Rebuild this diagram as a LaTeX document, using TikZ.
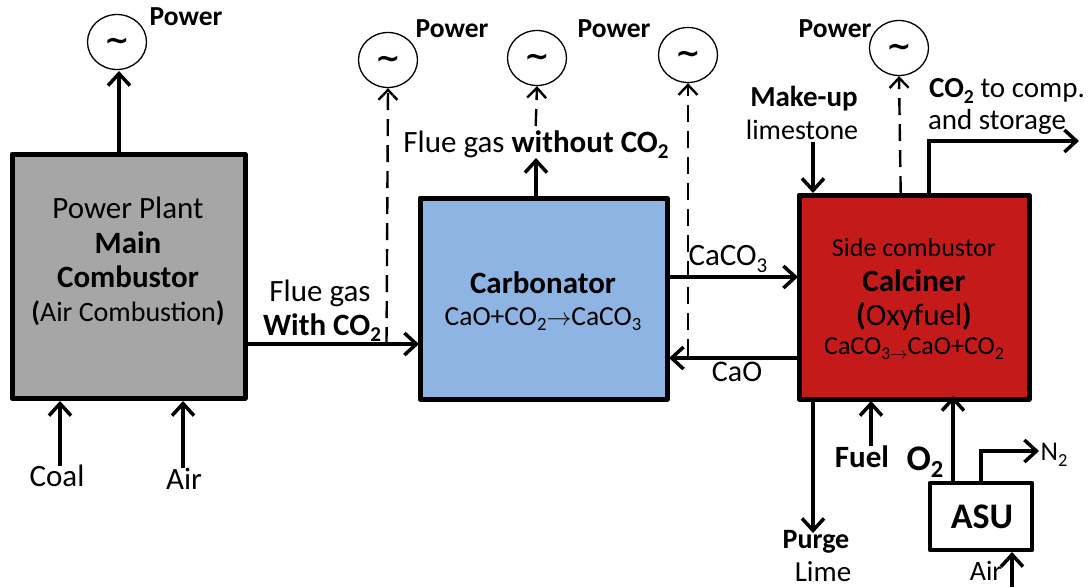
\documentclass[tikz,border=0pt]{standalone}
\usepackage{fontspec}
\setmainfont{Carlito}
\newfontfamily\tildefont{DejaVu Sans}
\usetikzlibrary{arrows.meta,shapes.geometric}
\newcommand{\fs}[1]{\fontsize{#1}{#1}\selectfont}
\newcommand{\sub}[1]{\raisebox{-0.2em}{\fontsize{0.68em}{0.68em}\selectfont #1}}
\tikzset{
  x=1pt,y=-1pt,
  box/.style={draw=black,line width=5pt,line join=round,minimum width=0pt,inner sep=0pt},
  gen/.style={draw=black,line width=1.3pt,ellipse,minimum width=59pt,minimum height=55pt,inner sep=0pt},
  tip/.style={-{Straight Barb[length=12pt,width=22pt,line width=3.5pt]}},
  flow/.style={tip,line width=4pt},
  thin flow/.style={tip,line width=3.4pt},
  elec/.style={-{Straight Barb[length=10pt,width=19pt,line width=2.4pt]},line width=2.4pt,dash pattern=on 17pt off 9pt},
  lab/.style={inner sep=0pt,align=center,text=black},
}
\begin{document}
\begin{tikzpicture}
\useasboundingbox (0,0) rectangle (1089,587);
% boxes
\path[box,fill={rgb,255:red,166;green,166;blue,166}] (12,154) rectangle (245,398);
\coordinate (mainN) at (119,154);
\coordinate (mainE) at (245,344);
\path[box,fill={rgb,255:red,141;green,180;blue,226}] (420,198) rectangle (667,399);
\path[box,fill={rgb,255:red,196;green,26;blue,26}] (799,195) rectangle (1029,399);
\path[box,line width=4.5pt,fill=white] (930,483) rectangle (1032,550);
% generators
\node[gen] (g1) at (117,42) {};
\node[gen] (g2) at (388,60) {};
\node[gen] (g3) at (537,58) {};
\node[gen] (g4) at (688,55) {};
\node[gen] (g5) at (899,48) {};
\foreach \g in {g1,g2,g3,g4,g5}{\node[lab] at ([yshift=-2pt]\g.center) {\tildefont\fs{30}\textbf{\char"007E}};}
% end points
\coordinate (carbW) at (419,344);
\coordinate (d1s) at (386.5,344);
\coordinate (d2s) at (535.7,126);
\coordinate (d3s) at (688,356);
\coordinate (d4s) at (900.7,193);
\coordinate (carbN) at (536,197);
\coordinate (fgout) at (536,158);
\coordinate (carbE) at (667,277);
\coordinate (calW) at (798,277);
\coordinate (calW2) at (799,358);
\coordinate (carbE2) at (669,358);
\coordinate (mks) at (813,142);
\coordinate (mke) at (813,193);
\coordinate (cos) at (929,194);
\coordinate (coe) at (1079,141);
\coordinate (pus) at (813,399);
\coordinate (pue) at (813,533);
\coordinate (fus) at (871,446);
\coordinate (fue) at (871,401);
\coordinate (oxs) at (953,482);
\coordinate (oxe) at (953,396);
\coordinate (n2s) at (981,482);
\coordinate (n2e) at (1039,451);
\coordinate (ars) at (1012,587);
\coordinate (are) at (1012,552);
\coordinate (cls) at (60,466);
\coordinate (cle) at (60,401);
\coordinate (ais) at (183,468);
\coordinate (aie) at (183,401);
% connectors
\draw[flow] (mainN) -- (119,71);
\draw[flow] (mainE) -- (carbW);
\draw[flow] (carbN) -- (fgout);
\draw[flow] (carbE) -- (calW);
\draw[flow] (calW2) -- (carbE2);
\draw[thin flow] (mks) -- (mke);
\draw[flow] (cos) |- (coe);
\draw[thin flow] (pus) -- (pue);
\draw[flow] (fus) -- (fue);
\draw[flow] (oxs) -- (oxe);
\draw[thin flow] (n2s) |- (n2e);
\draw[flow] (ars) -- (are);
\draw[flow] (cls) -- (cle);
\draw[flow] (ais) -- (aie);
\draw[elec] (d1s) -- (g2.south);
\draw[elec] (d2s) -- (g3.south);
\draw[elec] (d3s) -- (g4.south);
\draw[elec] (d4s) -- (g5.south);
% labels
\node[lab] (t1) at (186,17) {\fs{27.5}\textbf{Power}};
\node[lab] (t2) at (452,29) {\fs{27.5}\textbf{Power}};
\node[lab] (t3) at (614,29) {\fs{27.5}\textbf{Power}};
\node[lab] (t4) at (835,29) {\fs{27.5}\textbf{Power}};
\node[lab] (t5) at (128,208) {\fs{31}Power Plant};
\node[lab] (t6) at (128,243) {\fs{31}\textbf{Main}};
\node[lab] (t7) at (128,277) {\fs{31}\textbf{Combustor}};
\node[lab] (t8) at (128,313) {\fs{28}\textbf{(}Air Combustion\textbf{)}};
\node[lab] (t9) at (320,293) {\fs{31}Flue gas};
\node[lab] (t10) at (322,328) {\fs{31}\textbf{With CO\sub{2}}};
\node[lab] (t11) at (536,145) {\fs{31}Flue gas \textbf{without CO\sub{2}}};
\node[lab] (t12) at (543,283) {\fs{31}\textbf{Carbonator}};
\node[lab] (t13) at (543,319) {\fs{27.5}CaO+CO\sub{2}$\rightarrow$CaCO\sub{3}};
\node[lab] (t14) at (728,259) {\fs{31}CaCO\sub{3}};
\node[lab] (t15) at (737,372) {\fs{30}CaO};
\node[lab] (t16) at (914,248) {\fs{26}Side combustor};
\node[lab] (t17) at (914,281) {\fs{31}\textbf{Calciner}};
\node[lab] (t18) at (914,316) {\fs{31}\textbf{(}Oxyfuel\textbf{)}};
\node[lab] (t19) at (914,349) {\fs{26}CaCO\sub{3}\raisebox{-0.2em}{\fs{16}$\rightarrow$}CaO+CO\sub{2}};
\node[lab] (t20) at (804,99) {\fs{29}\textbf{Make-up}};
\node[lab] (t21) at (802,130) {\fs{28}limestone};
\node[lab] (t22) at (1007,91) {\fs{29}\textbf{CO\sub{2}} to comp.};
\node[lab] (t23) at (997,122) {\fs{29}and storage};
\node[lab] (t24) at (862,457) {\fs{31}\textbf{Fuel}};
\node[lab] (t25) at (925,462) {\fs{36}\textbf{O\sub{2}}};
\node[lab] (t26) at (982,517) {\fs{36}\textbf{ASU}};
\node[lab] (t27) at (1054,455) {\fs{27}N\sub{2}};
\node[lab] (t28) at (816,542) {\fs{28}\textbf{Purge}};
\node[lab] (t29) at (823,572) {\fs{29}Lime};
\node[lab] (t30) at (986,571) {\fs{28}Air};
\node[lab] (t31) at (57,476) {\fs{31}Coal};
\node[lab] (t32) at (184,479) {\fs{31}Air};
\end{tikzpicture}
\end{document}
